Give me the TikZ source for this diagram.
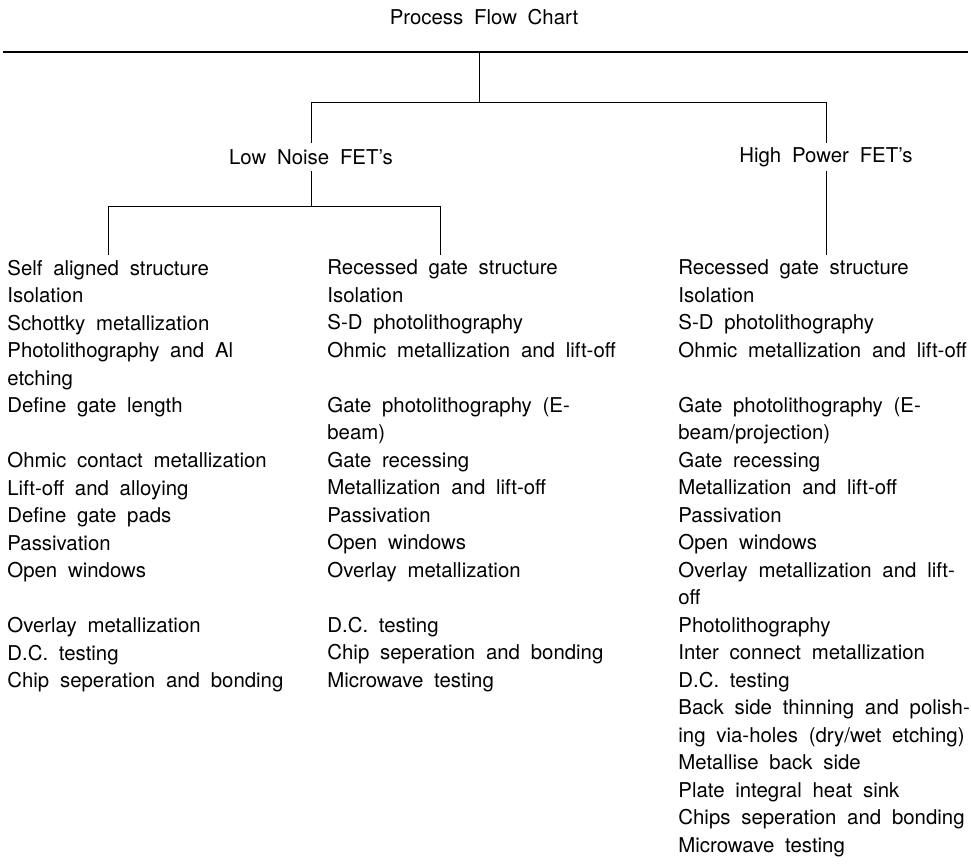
\documentclass[tikz,border=0pt]{standalone}
\usepackage{fontspec}
\setmainfont{TeX Gyre Heros}[WordSpace=1.9]
\usetikzlibrary{positioning}

\begin{document}
\begin{tikzpicture}[
    x=0.5pt, y=-0.5pt,
    font=\fontsize{10.2pt}{13.75pt}\selectfont,
    heading/.style={
		inner sep=0pt
	},
    fet/.style={
		inner sep=0pt,
		minimum height=13.5pt
	},
    steps/.style={
		anchor=north west,
		align=left,
		inner sep=0pt
	},
    rule/.style={
		line width=1.3pt
	},
    branch/.style={
		line width=0.5pt
	}
  ]
  \useasboundingbox (0,0) rectangle (971,865);

  % title and the rule under it
  \node [heading] (title) at (484,17) {Process Flow Chart};
  \coordinate (ruleL) at (3,52);
  \coordinate (ruleR) at (968,52);
  \coordinate (root) at (479,52);
  \coordinate (split) at (479,103);

  % the two kinds of FET
  \node [fet] (lownoise) at (311,157) {Low Noise FET's};
  \node [fet] (highpower) at (826,157) {High Power FET's};

  \coordinate (lnbar) at (311,207);
  \coordinate (saend) at (108,255);
  \coordinate (rgend) at (440,255);
  \coordinate (hpend) at (826,255);

  % the three lists of steps
  \node [steps] (selfal) at (7,259.5)
 {%
  Self aligned structure\\
  Isolation\\
  Schottky metallization\\
  Photolithography and Al\\
  etching\\
  Define gate length\\
  \mbox{}\\
  Ohmic contact metallization\\
  Lift-off and alloying\\
  Define gate pads\\
  Passivation\\
  Open windows\\
  \mbox{}\\
  Overlay metallization\\
  D.C. testing\\
  Chip seperation and bonding
 };

  \node [steps] (recln) at (327,259.5)
 {%
  Recessed gate structure\\
  Isolation\\
  S-D photolithography\\
  Ohmic metallization and lift-off\\
  \mbox{}\\
  Gate photolithography (E-\\
  beam)\\
  Gate recessing\\
  Metallization and lift-off\\
  Passivation\\
  Open windows\\
  Overlay metallization\\
  \mbox{}\\
  D.C. testing\\
  Chip seperation and bonding\\
  Microwave testing
 };

  \node [steps] (rechp) at (678,259.5)
 {%
  Recessed gate structure\\
  Isolation\\
  S-D photolithography\\
  Ohmic metallization and lift-off\\
  \mbox{}\\
  Gate photolithography (E-\\
  beam/projection)\\
  Gate recessing\\
  Metallization and lift-off\\
  Passivation\\
  Open windows\\
  Overlay metallization and lift-\\
  off\\
  Photolithography\\
  Inter connect metallization\\
  D.C. testing\\
  Back side thinning and polish-\\
  ing via-holes (dry/wet etching)\\
  Metallise back side\\
  Plate integral heat sink\\
  Chips seperation and bonding\\
  Microwave testing
 };

 \draw [rule] (ruleL) -- (ruleR);
 \draw [branch] (root) -- (split);
 \draw [branch] (split) -| (lownoise);
 \draw [branch] (split) -| (highpower);
 \draw [branch] (lownoise) -- (lnbar);
 \draw [branch] (lnbar) -| (saend);
 \draw [branch] (lnbar) -| (rgend);
 \draw [branch] (highpower) -- (hpend);

\end{tikzpicture}
\end{document}
